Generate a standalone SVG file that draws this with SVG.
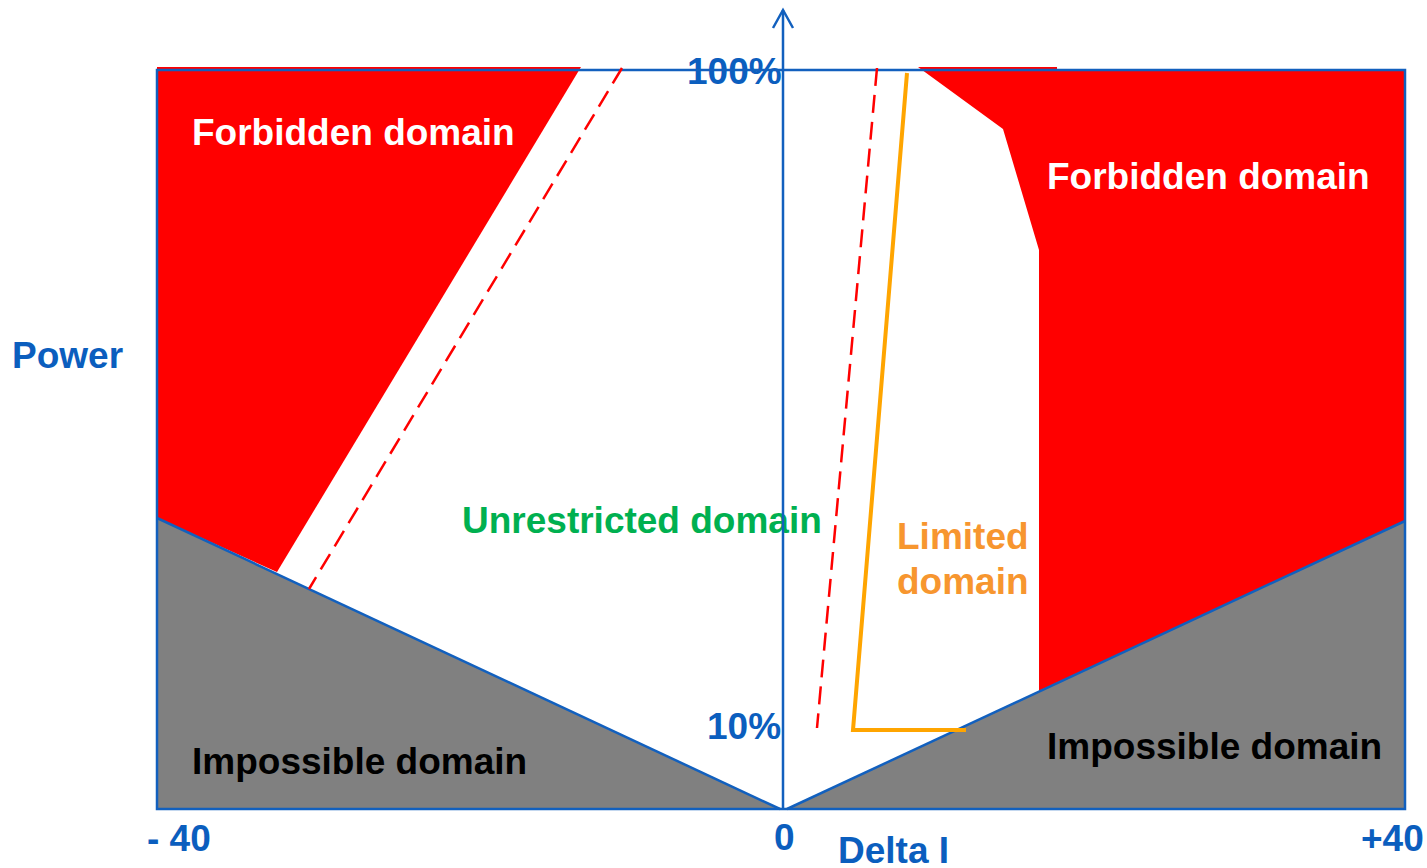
<svg xmlns="http://www.w3.org/2000/svg" width="1427" height="868" viewBox="0 0 1427 868">
  <style>
    .lbl { font-family: "Liberation Sans", Arial, sans-serif; font-weight: bold; font-size: 37px; }
    .axis { fill: #0B5EBE; }
    .forbid { fill: #FF0000; }
    .imposs { fill: #808080; }
    .edge { stroke: #1260BE; stroke-width: 2.5; fill: none; }
    .dash { stroke: #FF0000; stroke-width: 2.5; stroke-dasharray: 18 9; fill: none; }
  </style>
  <rect width="1427" height="868" fill="#FFFFFF"/>

  <!-- Operating domains -->
  <g id="forbidden-left">
    <polygon class="forbid" points="157,67 581,67 277,572 157,518"/>
  </g>
  <g id="forbidden-right">
    <polygon class="forbid" points="918,67 1057,67 1057,70 1405,70 1405,521 1039,691 1039,250 1003,129"/>
  </g>
  <g id="impossible-left">
    <polygon class="imposs" points="157,518 780,809 157,809"/>
  </g>
  <g id="impossible-right">
    <polygon class="imposs" points="787,809 1405,521 1405,809"/>
  </g>

  <!-- Labels -->
  <g id="labels">
    <text class="lbl" x="192" y="145" fill="#FFFFFF">Forbidden domain</text>
    <text class="lbl" x="1047" y="189" fill="#FFFFFF">Forbidden domain</text>
    <text class="lbl" x="192" y="774" fill="#000000">Impossible domain</text>
    <text class="lbl" x="1047" y="759" fill="#000000">Impossible domain</text>
    <text class="lbl" x="462" y="533" fill="#00B050">Unrestricted domain</text>
    <text class="lbl" x="897" y="549" fill="#F7962F">Limited</text>
    <text class="lbl" x="897" y="594" fill="#F7962F">domain</text>
    <text class="lbl axis" x="12" y="368">Power</text>
    <text class="lbl axis" x="687" y="84">100%</text>
    <text class="lbl axis" x="707" y="739">10%</text>
    <text class="lbl axis" x="147" y="851">- 40</text>
    <text class="lbl axis" x="774" y="850">0</text>
    <text class="lbl axis" x="838" y="863">Delta I</text>
    <text class="lbl axis" x="1361" y="851">+40</text>
  </g>

  <!-- Boundaries, limit lines and axis -->
  <g id="connectors">
    <rect class="edge" x="157" y="70" width="1248" height="739"/>
    <line class="edge" x1="157" y1="518" x2="780" y2="809"/>
    <line class="edge" x1="787" y1="809" x2="1405" y2="521"/>
    <line class="dash" x1="622" y1="68" x2="309" y2="589"/>
    <line class="dash" x1="877" y1="68" x2="817" y2="728"/>
    <polyline points="907,73 853,730 966,730" fill="none" stroke="#FFA500" stroke-width="4"/>
    <line class="edge" x1="783" y1="10" x2="783" y2="809"/>
    <polyline class="edge" points="773,28 783,10 793,28"/>
  </g>
</svg>
